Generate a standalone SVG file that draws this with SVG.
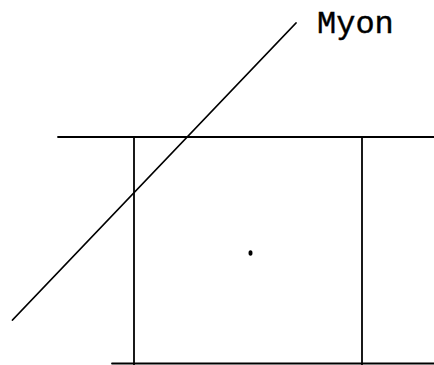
<svg xmlns="http://www.w3.org/2000/svg" width="434" height="365" viewBox="0 0 434 365">
<style>
.ln{stroke:#000;stroke-width:1.8;fill:none;stroke-linecap:round}
.lb{font-family:"Liberation Mono","Courier New",monospace;font-size:32px;fill:#000}
</style>
<rect width="434" height="365" fill="#fff"/>
<g id="detector">
<line class="ln" x1="58" y1="137" x2="434" y2="137"/>
<line class="ln" x1="134" y1="137" x2="134" y2="365"/>
<line class="ln" x1="362" y1="137" x2="362" y2="365"/>
<line class="ln" x1="112" y1="363.5" x2="434" y2="363.5"/>
<ellipse cx="250.5" cy="253" rx="2" ry="2.8" fill="#000"/>
</g>
<g id="muon">
<line class="ln" x1="296" y1="23" x2="12.5" y2="320"/>
<text class="lb" x="317" y="33" stroke="#000" stroke-width="0.4">Myon</text>
</g>
</svg>
